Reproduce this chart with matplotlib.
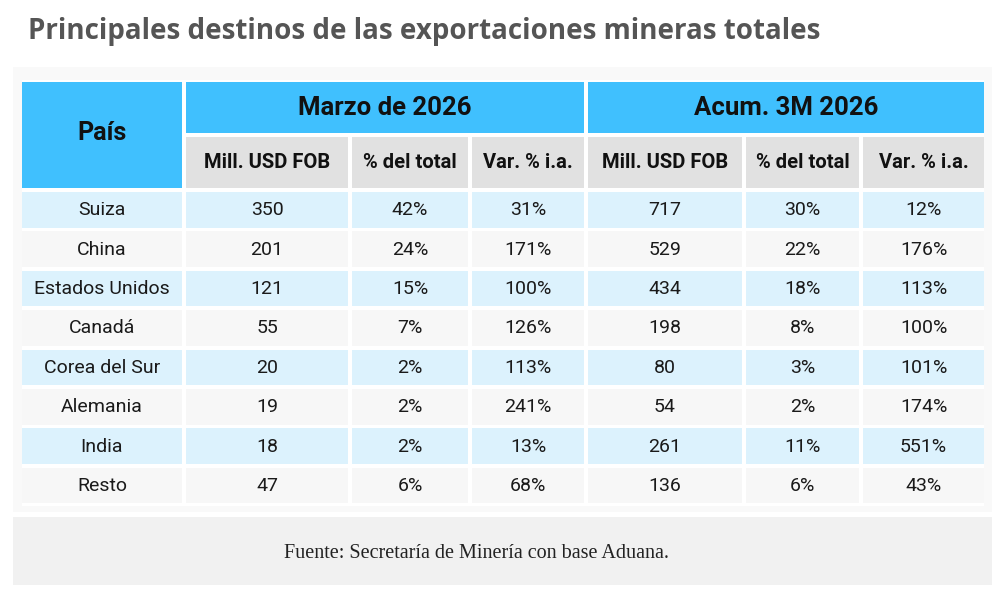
import matplotlib
matplotlib.use("Agg")
import matplotlib.pyplot as plt
from matplotlib.patches import Rectangle

title = "Principales destinos de las exportaciones mineras totales"
group_headers = ["Marzo de 2026", "Acum. 3M 2026"]
sub_headers = ["Mill. USD FOB", "% del total", "Var. % i.a."]
first_header = "País"
countries = ["Suiza", "China", "Estados Unidos", "Canadá", "Corea del Sur", "Alemania", "India", "Resto"]
mar_usd = ["350", "201", "121", "55", "20", "19", "18", "47"]
mar_share = ["42%", "24%", "15%", "7%", "2%", "2%", "2%", "6%"]
mar_var = ["31%", "171%", "100%", "126%", "113%", "241%", "13%", "68%"]
acu_usd = ["717", "529", "434", "198", "80", "54", "261", "136"]
acu_share = ["30%", "22%", "18%", "8%", "3%", "2%", "11%", "6%"]
acu_var = ["12%", "176%", "113%", "100%", "101%", "174%", "551%", "43%"]
source = "Fuente: Secretaría de Minería con base Aduana."

W, H = 1000, 589
fig = plt.figure(figsize=(W / 100, H / 100), dpi=100)
ax = fig.add_axes([0, 0, 1, 1])
ax.set_xlim(0, W)
ax.set_ylim(H, 0)
ax.axis("off")
fig.patch.set_facecolor("white")

BLUE = "#40c0fe"
GRAY = "#e1e1e1"
ROW_BLUE = "#dcf2fd"
ROW_GRAY = "#f7f7f7"
FONT = "Roboto"

def rect(x0, y0, x1, y1, color):
    ax.add_patch(Rectangle((x0, y0), x1 - x0, y1 - y0, facecolor=color, edgecolor="none"))

# title
ax.text(28, 32, title, fontsize=20, fontweight="bold", color="#555555",
        family="Open Sans", va="center", ha="left")

# panels
rect(13, 67, 992, 512, "#f9f9f9")
rect(13, 517, 992, 585, "#f1f1f1")
rect(22, 80, 984, 506, "white")

cols = [(22, 182), (186, 348), (352, 468), (472, 584), (588, 742), (746, 859), (863, 984)]
row_tops = [192 + i * 39.4 for i in range(len(countries))]
row_h = 35.5

# header
rect(cols[0][0], 82, cols[0][1], 188, BLUE)
ax.text((cols[0][0] + cols[0][1]) / 2, 133, first_header, fontsize=18, fontweight="bold",
        family=FONT, ha="center", va="center", color="#111111")
for g, name in enumerate(group_headers):
    x0 = cols[1 + 3 * g][0]
    x1 = cols[3 + 3 * g][1]
    rect(x0, 82, x1, 133, BLUE)
    ax.text((x0 + x1) / 2, 108, name, fontsize=18.5, fontweight="bold",
            family=FONT, ha="center", va="center", color="#111111")
    for j, sh in enumerate(sub_headers):
        c0, c1 = cols[1 + 3 * g + j]
        rect(c0, 137, c1, 188, GRAY)
        ax.text((c0 + c1) / 2, 163, sh, fontsize=14.5, fontweight="bold",
                family=FONT, ha="center", va="center", color="#111111")

columns = [countries, mar_usd, mar_share, mar_var, acu_usd, acu_share, acu_var]
for i in range(len(countries)):
    y0 = row_tops[i]
    color = ROW_BLUE if i % 2 == 0 else ROW_GRAY
    for j, (c0, c1) in enumerate(cols):
        rect(c0, y0, c1, y0 + row_h, color)
        ax.text((c0 + c1) / 2, y0 + row_h / 2 + 0.5, columns[j][i], fontsize=14,
                family=FONT, ha="center", va="center", color="#1a1a1a")

ax.text(477, 553, source, fontsize=14.5, family="Liberation Serif",
        ha="center", va="center", color="#222222")

fig.savefig("out.png", dpi=100, facecolor="white")
